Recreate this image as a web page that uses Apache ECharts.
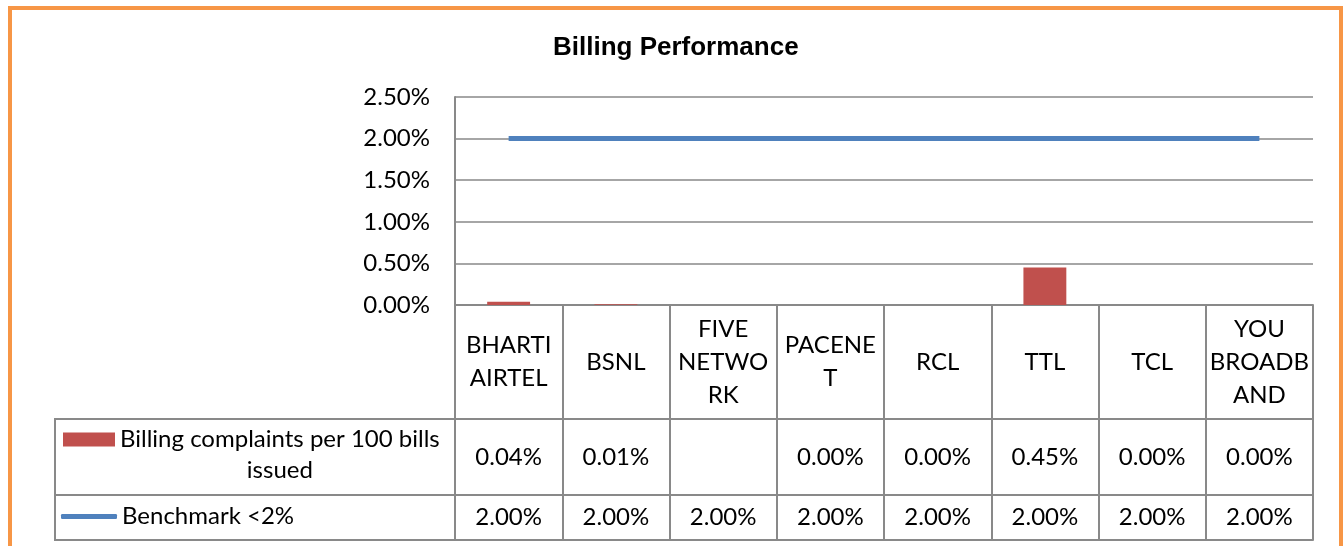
<!DOCTYPE html>
<html>
<head>
<meta charset="utf-8">
<title>Billing Performance</title>
<script src="https://cdn.jsdelivr.net/npm/echarts@6/dist/echarts.min.js"></script>
<style>
  html, body { margin: 0; padding: 0; background: #fff; }
  #chart { width: 1343px; height: 546px; }
</style>
</head>
<body>
<div id="chart"></div>
<script>
// data
const categories = ['BHARTI AIRTEL', 'BSNL', 'FIVE NETWORK', 'PACENET', 'RCL', 'TTL', 'TCL', 'YOU BROADBAND']
// category names as they wrap in the table header
const headerLabels = ['BHARTI\nAIRTEL', 'BSNL', 'FIVE\nNETWO\nRK', 'PACENE\nT', 'RCL', 'TTL', 'TCL', 'YOU\nBROADB\nAND']
const complaints = [0.0004, 0.0001, null, 0, 0, 0.0045, 0, 0]
const benchmark = [0.02, 0.02, 0.02, 0.02, 0.02, 0.02, 0.02, 0.02]
const yMin = 0, yMax = 0.025, yStep = 0.005

const BAR_NAME = 'Billing complaints per 100 bills issued'
const LINE_NAME = 'Benchmark <2%'

// layout of the data table under the plot
const ROW_HEADER = 114, ROW_BAR = 76, ROW_BENCH = 45
const PLOT = { left: 455, top: 97, right: 30, bottom: 241 }
const LEGEND_LEFT = 55
const AXIS_Y = 546 - PLOT.bottom

const FONT = 'Lato, "Noto Sans", sans-serif'
const GRAY = '#898989'
const lineStyle = { color: GRAY, width: 2 }
const textBase = { fontFamily: FONT, fontSize: 24, color: '#000' }

const pct = (v) => (v == null ? '' : (v * 100).toFixed(2) + '%')

// one category axis per table row, pushed down with offset
const tableAxis = (offset, height, labelFn, lh) => ({
  type: 'category',
  data: categories,
  position: 'bottom',
  offset: offset,
  axisLine: { show: true, lineStyle },
  axisTick: { show: height > 0, interval: 0, length: height, lineStyle },
  axisLabel: {
    show: !!labelFn,
    interval: 0,
    margin: height / 2,
    verticalAlign: 'middle',
    lineHeight: lh || 31,
    formatter: (v, i) => (labelFn ? labelFn(i) : ''),
    ...textBase
  }
})

const chart = echarts.init(document.getElementById('chart'))

const option = {
  animation: false,
  backgroundColor: '#fff',
  title: {
    text: 'Billing Performance',
    left: 553,
    top: 35,
    padding: 0,
    textStyle: { fontFamily: '"Liberation Sans", Arial, sans-serif', fontWeight: 'bold', fontSize: 26, color: '#000' }
  },
  grid: Object.assign({ containLabel: false, outerBoundsMode: 'none' }, PLOT),
  legend: [
    {
      data: [BAR_NAME],
      left: 63,
      top: 393,
      padding: 0,
      icon: 'rect',
      itemWidth: 52,
      itemHeight: 14,
      selectedMode: false,
      // blank first line keeps the icon level with the first text line
      formatter: (name) => '{s| }\n' + ['Billing complaints per 100 bills', 'issued'].map((l) => '{c|' + l + '}').join('\n'),
      textStyle: {
        ...textBase,
        lineHeight: 31,
        rich: {
          s: { ...textBase, lineHeight: 31 },
          c: { ...textBase, lineHeight: 31, align: 'center' }
        }
      }
    },
    {
      data: [LINE_NAME],
      left: 61,
      top: 501,
      padding: 0,
      icon: 'roundRect',
      itemWidth: 56,
      itemHeight: 5,
      selectedMode: false,
      textStyle: { ...textBase, lineHeight: 31 }
    }
  ],
  xAxis: [
    tableAxis(0, ROW_HEADER, (i) => headerLabels[i], 33),
    tableAxis(ROW_HEADER, ROW_BAR, (i) => pct(complaints[i])),
    tableAxis(ROW_HEADER + ROW_BAR, ROW_BENCH, (i) => pct(benchmark[i])),
    tableAxis(ROW_HEADER + ROW_BAR + ROW_BENCH, 0, null)
  ],
  yAxis: {
    type: 'value',
    min: yMin,
    max: yMax,
    interval: yStep,
    axisLine: { show: true, lineStyle },
    axisTick: { show: false },
    splitLine: { lineStyle: { color: GRAY, width: 1.5 } },
    axisLabel: { margin: 25, formatter: (v) => pct(v), ...textBase }
  },
  series: [
    {
      type: 'bar',
      name: BAR_NAME,
      data: complaints,
      barWidth: '40%',
      itemStyle: { color: '#C0504D' }
    },
    {
      type: 'line',
      name: LINE_NAME,
      data: benchmark,
      symbol: 'none',
      itemStyle: { color: '#4F81BD' },
      lineStyle: { color: '#4F81BD', width: 5 }
    }
  ],
  graphic: [
    // legend column of the data table
    {
      type: 'rect',
      shape: { x: LEGEND_LEFT, y: AXIS_Y + ROW_HEADER, width: PLOT.left - LEGEND_LEFT, height: ROW_BAR + ROW_BENCH },
      style: { fill: 'none', stroke: GRAY, lineWidth: 2 }
    },
    {
      type: 'line',
      shape: { x1: LEGEND_LEFT, y1: AXIS_Y + ROW_HEADER + ROW_BAR, x2: PLOT.left, y2: AXIS_Y + ROW_HEADER + ROW_BAR },
      style: { stroke: GRAY, lineWidth: 2 }
    },
    // orange frame round the chart
    {
      type: 'rect',
      shape: { x: 10, y: 8, width: 1331, height: 600 },
      style: { fill: 'none', stroke: '#F79646', lineWidth: 4 }
    }
  ]
}

chart.setOption(option)
window.addEventListener('resize', () => chart.resize())
</script>
</body>
</html>
